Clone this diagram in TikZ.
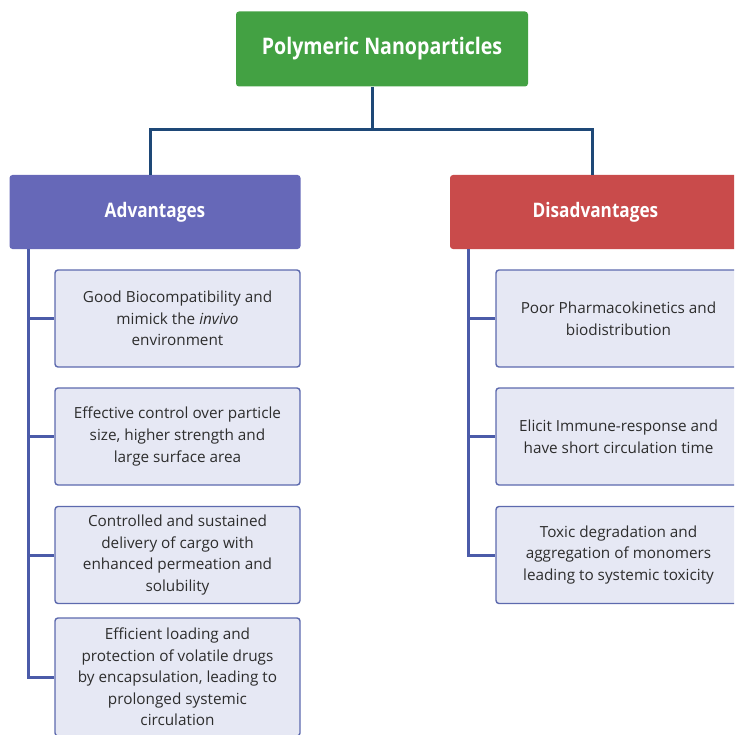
\documentclass[tikz,border=0pt]{standalone}
\usepackage{fontspec}
\setmainfont{Open Sans}
\newfontfamily\hdrfont{Open Sans}[FakeStretch=0.86]
\definecolor{rootgreen}{RGB}{67,161,67}
\definecolor{advblue}{RGB}{102,104,184}
\definecolor{disred}{RGB}{201,75,75}
\definecolor{trunkblue}{RGB}{30,72,119}
\definecolor{spineblue}{RGB}{75,91,169}
\definecolor{itemedge}{RGB}{93,106,174}
\definecolor{itemfill}{RGB}{230,232,244}
\definecolor{bodytxt}{RGB}{45,45,45}
\tikzset{
  head/.style={rounded corners=3pt, text=white, inner sep=0pt,
    font=\hdrfont\bfseries\fontsize{20}{24}\selectfont},
  item/.style={draw=itemedge, fill=itemfill, line width=1.4pt, rounded corners=3pt,
    minimum width=245pt, minimum height=97pt, align=center, inner sep=0pt,
    text=bodytxt, font=\fontsize{15.3}{21.6}\selectfont},
  trunk/.style={draw=trunkblue, line width=3pt},
  spine/.style={draw=spineblue, line width=3pt}
}
\begin{document}
\begin{tikzpicture}[x=1pt,y=-1pt]
\path[use as bounding box] (0,0) rectangle (734,735);
\clip (0,0) rectangle (734,735);
% top of the tree
\node[head, fill=rootgreen, minimum width=292pt, minimum height=75pt,
  font=\hdrfont\bfseries\fontsize{22.8}{26}\selectfont] (root) at (382,49) {Polymeric Nanoparticles};
\node[head, fill=advblue, minimum width=291pt, minimum height=74pt] (adv) at (155,212) {Advantages};
\node[head, fill=disred, minimum width=291pt, minimum height=74pt] (dis) at (595.5,212) {Disadvantages};
\coordinate (hub) at (372,130);
\draw[trunk] (hub |- root.south) -- (hub);
\draw[trunk] (hub) -| ([xshift=-5pt]adv.north);
\draw[trunk] (hub) -| ([xshift=-3pt]dis.north);
%
\node[item] (a1) at (177.5,318.5) {Good Biocompatibility and\\mimick the \textit{invivo}\\environment};
\node[item] (a2) at (177.5,436.5) {Effective control over particle\\size, higher strength and\\large surface area};
\node[item] (a3) at (177.5,555) {Controlled and sustained\\delivery of cargo with\\enhanced permeation and\\solubility};
\node[item, minimum height=118pt] (a4) at (177.5,677) {Efficient loading and\\protection of volatile drugs\\by encapsulation, leading to\\prolonged systemic\\circulation};
%
\node[item] (d1) at (618.5,318.5) {Poor Pharmacokinetics and\\biodistribution};
\node[item] (d2) at (618.5,436.5) {Elicit Immune-response and\\have short circulation time};
\node[item] (d3) at (618.5,555) {Toxic degradation and\\aggregation of monomers\\leading to systemic toxicity};
%
\coordinate (lsp) at ([xshift=19pt]adv.south west);
\coordinate (rsp) at ([xshift=19pt]dis.south west);
\draw[spine] (lsp) |- (a4.west);
\foreach \n in {a1,a2,a3}
  \draw[spine] (lsp |- \n.west) -- (\n.west);
\draw[spine] (rsp) |- (d3.west);
\foreach \n in {d1,d2}
  \draw[spine] (rsp |- \n.west) -- (\n.west);
\end{tikzpicture}
\end{document}
